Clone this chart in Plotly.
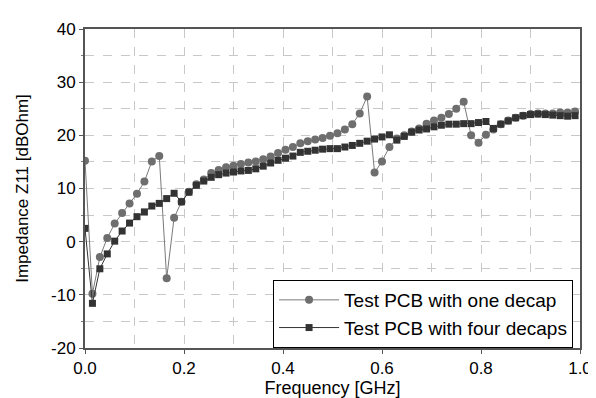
import plotly.graph_objects as go

freq_ghz = [0.000, 0.015, 0.030, 0.045, 0.060, 0.075, 0.090, 0.105, 0.120, 0.135,
            0.150, 0.165, 0.180, 0.195, 0.210, 0.225, 0.240, 0.255, 0.270, 0.285,
            0.300, 0.315, 0.330, 0.345, 0.360, 0.375, 0.390, 0.405, 0.420, 0.435,
            0.450, 0.465, 0.480, 0.495, 0.510, 0.525, 0.540, 0.555, 0.570, 0.585,
            0.600, 0.615, 0.630, 0.645, 0.660, 0.675, 0.690, 0.705, 0.720, 0.735,
            0.750, 0.765, 0.780, 0.795, 0.810, 0.825, 0.840, 0.855, 0.870, 0.885,
            0.900, 0.915, 0.930, 0.945, 0.960, 0.975, 0.990]

one_decap = [15.2, -9.8, -2.9, 0.7, 3.4, 5.4, 7.2, 9.0, 11.3, 15.1,
             16.1, -6.9, 4.5, 7.5, 9.4, 10.8, 11.7, 12.9, 13.5, 14.0,
             14.3, 14.6, 14.9, 15.1, 15.5, 16.0, 16.7, 17.3, 17.8, 18.5,
             18.9, 19.2, 19.5, 19.9, 20.4, 21.1, 22.1, 24.1, 27.3, 13.0,
             15.1, 17.8, 19.4, 20.0, 20.7, 21.3, 22.2, 22.8, 23.3, 24.0,
             25.0, 26.3, 20.0, 18.6, 20.1, 21.1, 22.1, 22.8, 23.3, 23.7,
             24.0, 24.1, 24.1, 24.1, 24.3, 24.3, 24.5]

four_decaps = [2.5, -11.6, -5.1, -2.3, 0.1, 2.0, 3.5, 4.7, 5.6, 6.7,
               7.2, 8.1, 9.1, 7.5, 9.3, 10.6, 11.4, 12.1, 12.6, 12.9,
               13.1, 13.3, 13.4, 13.7, 14.2, 14.8, 15.3, 15.7, 16.1, 16.8,
               17.0, 17.2, 17.4, 17.5, 17.5, 17.8, 18.1, 18.5, 18.9, 19.3,
               19.7, 20.1, 19.1, 19.8, 20.6, 21.0, 21.2, 21.6, 21.9, 22.1,
               22.1, 22.2, 22.2, 22.4, 22.6, 21.3, 22.1, 22.7, 23.3, 23.7,
               23.9, 24.0, 23.9, 23.8, 23.7, 23.6, 23.7]

x_ticks = [0.0, 0.2, 0.4, 0.6, 0.8, 1.0]
y_ticks = [-20, -10, 0, 10, 20, 30, 40]

FONT = "Liberation Sans, Arial, sans-serif"

fig = go.Figure()
fig.add_trace(go.Scatter(
    x=freq_ghz, y=one_decap, mode="lines+markers",
    name="Test PCB with one decap",
    line=dict(color="#7a7a7a", width=1),
    marker=dict(symbol="circle", size=8, color="#6e6e6e"),
))
fig.add_trace(go.Scatter(
    x=freq_ghz, y=four_decaps, mode="lines+markers",
    name="Test PCB with four decaps",
    line=dict(color="#333333", width=1),
    marker=dict(symbol="square", size=7, color="#333333"),
))

axis_common = dict(
    showline=True, linecolor="#555555", linewidth=2, mirror=True,
    showgrid=True, gridcolor="#c8c8c8", griddash="dash", gridwidth=1,
    ticks="outside", ticklen=4, tickcolor="#555555",
    tickfont=dict(family=FONT, size=17, color="black"),
    zeroline=False,
)

fig.update_xaxes(
    range=[0, 1.0], tickvals=x_ticks, ticktext=[f"{v:.1f}" for v in x_ticks],
    minor=dict(dtick=0.1, tick0=0, showgrid=True, gridcolor="#c8c8c8", griddash="dash"),
    title=dict(text="Frequency [GHz]", font=dict(family=FONT, size=18, color="black"), standoff=3),
    **axis_common,
)
fig.update_yaxes(
    range=[-20, 40], tickvals=y_ticks, ticktext=[str(v) for v in y_ticks],
    minor=dict(dtick=5, tick0=0, showgrid=True, gridcolor="#c8c8c8", griddash="dash",
               ticks="outside", ticklen=2, tickcolor="#777777"),
    title=dict(text="Impedance Z11 [dBOhm]", font=dict(family=FONT, size=17, color="black"), standoff=18),
    **axis_common,
)

fig.update_layout(
    width=596, height=398,
    margin=dict(l=77, r=23, t=17, b=49),
    paper_bgcolor="white", plot_bgcolor="white",
    showlegend=True,
    legend=dict(
        x=0.986, y=0.0, xanchor="right", yanchor="bottom",
        bgcolor="white", bordercolor="black", borderwidth=1,
        font=dict(family=FONT, size=19, color="black"),
        itemwidth=60, tracegroupgap=0,
        entrywidth=240, entrywidthmode="pixels",
    ),
)

fig.write_html("out.html")
